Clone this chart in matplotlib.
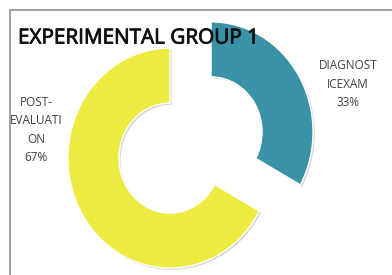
import matplotlib
matplotlib.use("Agg")
import matplotlib.pyplot as plt
import matplotlib.patheffects as pe
from matplotlib.patches import Rectangle

labels = ["DIAGNOST\nICEXAM", "POST-\nEVALUATI\nON"]
values = [33, 67]
colors = ["#3A92A6", "#EDEA40"]
title = "EXPERIMENTAL GROUP 1"

W, H = 392, 275
fig = plt.figure(figsize=(W / 100, H / 100), dpi=100)
fig.patch.set_facecolor("white")

ax = fig.add_axes([0, 0, 1, 1])
wedges, _ = ax.pie(values, colors=colors, startangle=90, counterclock=False,
                   explode=[0.234, 0.234], radius=1.0,
                   wedgeprops=dict(width=0.5, edgecolor="white", linewidth=1.0))
for w in wedges:
    w.set_path_effects([pe.SimplePatchShadow(offset=(1.2, -1.2), shadow_rgbFace="#888888", alpha=0.35),
                        pe.Normal()])
ax.set_aspect("auto")
cx, cy, sx, sy = 190.5, 145.0, 102.0, 110.0
ax.set_xlim((0 - cx) / sx, (W - cx) / sx)
ax.set_ylim((cy - H) / sy, (cy - 0) / sy)
ax.axis("off")

# chart border
fig.patches.append(Rectangle((10 / W, -0.1), 1.2, (H - 10) / H + 0.1, transform=fig.transFigure,
                             fill=False, edgecolor="#9a9a9a", linewidth=1.3))

font = ["Open Sans", "DejaVu Sans"]

def px(x, y):
    return x / W, 1 - y / H

fig.text(*px(18, 38), title, ha="left", va="center", fontsize=14.9, family=font,
         color="#111111",
         path_effects=[pe.withStroke(linewidth=0.6, foreground="#111111")])

pcts = [f"{v}%" for v in values]
fig.text(*px(348, 84), labels[0] + "\n" + pcts[0], ha="center", va="center",
         fontsize=8.5, family=font, color="#404040", linespacing=1.55)
fig.text(*px(36, 130), labels[1] + "\n" + pcts[1], ha="center", va="center",
         fontsize=8.5, family=font, color="#404040", linespacing=1.55)

fig.savefig("out.png", dpi=100, facecolor="white")
